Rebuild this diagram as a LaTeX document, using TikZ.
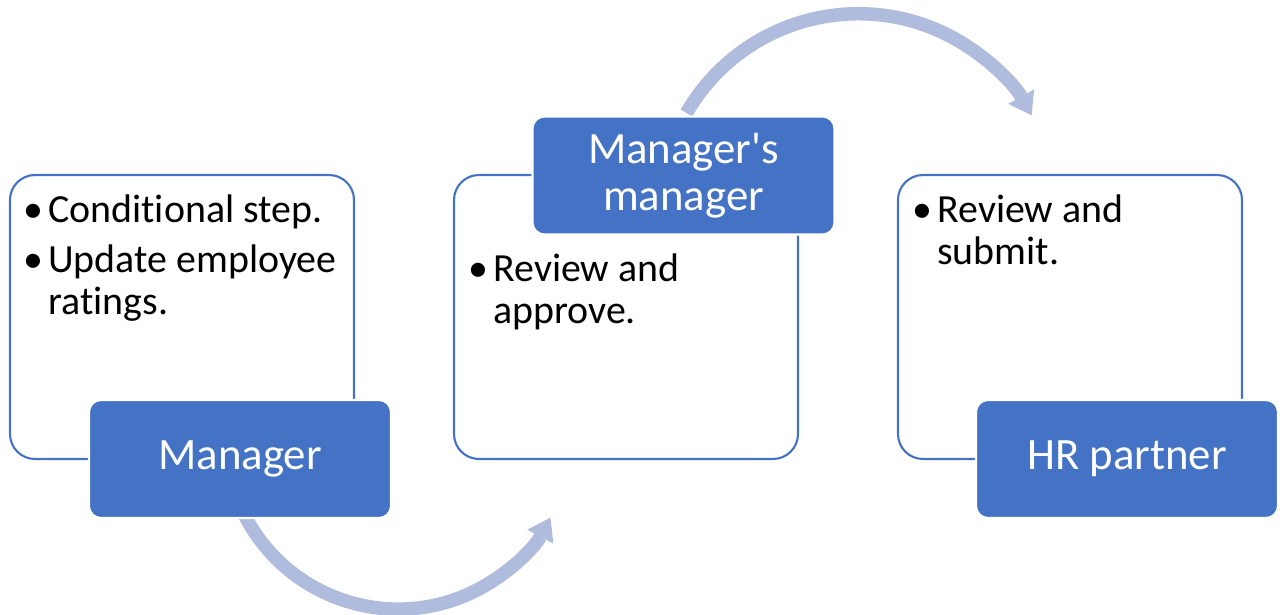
\documentclass[tikz,border=0pt]{standalone}
\usepackage{fontspec}
\setmainfont{Carlito}[Ligatures = NoCommon]
\usetikzlibrary{arrows.meta}
\definecolor{boxblue}{RGB}{68,114,196}
\definecolor{arrowblue}{RGB}{176,188,222}
\newcommand{\bul}{\makebox[0.5cm][l]{\textbullet}}
\newcommand{\hang}{\hspace*{0.5cm}}

\begin{document}
\begin{tikzpicture}[
  outline/.style = {draw = boxblue, line width = 1.2pt, rounded corners = 0.5cm, minimum width = 6.88cm, minimum height = 5.68cm},
  role/.style = {fill = boxblue, draw = white, line width = 1.2pt, rounded corners = 0.24cm, minimum width = 6.04cm, minimum height = 2.36cm, inner sep = 0pt, align = center, text = white, font = \fontsize{25.5}{26.6}\selectfont},
  items/.style = {anchor = base west, align = left, inner sep = 0pt, font = \fontsize{22.7}{24.4}\selectfont},
  flow/.style = {draw = arrowblue, line width = 0.27cm, -{Triangle[width = 0.59cm, length = 0.43cm, line width = 0pt]}}
]
\useasboundingbox (0,0) rectangle (25.6,12.3);

\coordinate (a1) at (4.90,1.98);
\coordinate (a2) at (13.73,10.04);
\draw[flow] (a1) arc[start angle = -152.6, end angle = -28, radius = 3.45cm];
\draw[flow] (a2) arc[start angle = 150, end angle = 29.2, radius = 3.97cm];

\node[outline] (box1) at (3.64,5.96) {};
\node[outline] (box2) at (12.52,5.96) {};
\node[outline] (box3) at (21.40,5.96) {};

\node[role] (mgr) at (4.80,3.12) {Manager};
\node[role] (mgr2) at (13.67,8.79) {Manager\textquotesingle s\\manager};
\node[role] (hr) at (22.54,3.12) {HR partner};

\node[items] (t1) at (0.46,6.00) {\bul Conditional step.\\[4pt]\bul Update employee\\\hang ratings.};
\node[items] (t2) at (9.36,5.82) {\bul Review and\\\hang approve.};
\node[items] (t3) at (18.24,7.00) {\bul Review and\\\hang submit.};
\end{tikzpicture}
\end{document}
